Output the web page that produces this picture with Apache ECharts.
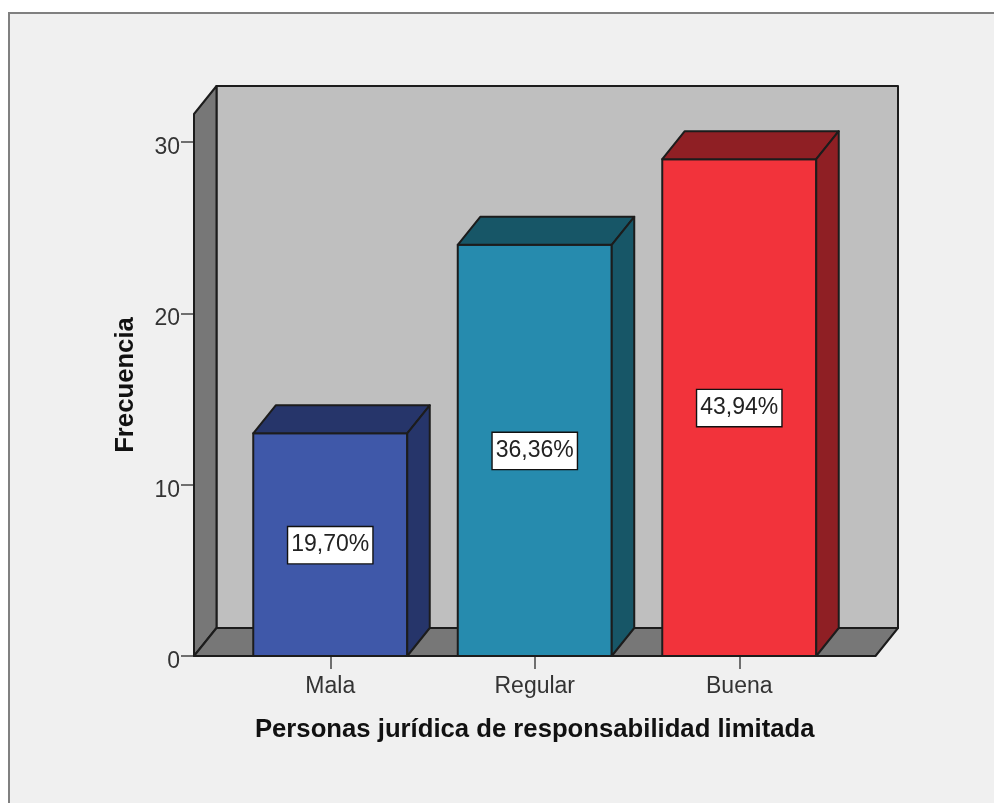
<!DOCTYPE html>
<html>
<head>
<meta charset="utf-8">
<style>
  html, body { margin: 0; padding: 0; background: #fff; }
  #chart { width: 994px; height: 803px; }
</style>
<script src="https://cdn.jsdelivr.net/npm/echarts@6/dist/echarts.min.js"></script>
</head>
<body>
<div id="chart"></div>
<script>
  const categories = ['Mala', 'Regular', 'Buena']
  const frequencies = [13, 24, 29]
  const percentLabels = ['19,70%', '36,36%', '43,94%']
  const yTicks = [0, 10, 20, 30]

  const frontColors = ['#3f58a9', '#268bae', '#f2333b']
  const sideColors = ['#26356a', '#175667', '#8f1f24']
  const yMax = 31.64
  const depthX = 22.5
  const depthY = -28
  const wallPad = 34
  const edge = '#1c1c1c'
  const font = '"Liberation Sans", Arial, sans-serif'

  const chart = echarts.init(document.getElementById('chart'))

  function poly(points, fill) {
    return {
      type: 'polygon',
      shape: { points },
      style: { fill, stroke: edge, lineWidth: 2, lineJoin: 'round' },
    }
  }

  // back wall, side wall and floor of the 3d box
  function renderWalls(params, api) {
    const [x0, y0] = api.coord([0, 0])
    const y1 = api.coord([0, yMax])[1]
    const bandWidth = api.size([1, 0])[0]
    const left = x0 - bandWidth / 2 - wallPad
    const right = x0 + bandWidth * 2.5 + wallPad
    return {
      type: 'group',
      children: [
        poly([[left + depthX, y1 + depthY], [right + depthX, y1 + depthY], [right + depthX, y0 + depthY], [left + depthX, y0 + depthY]], '#bfbfbf'),
        poly([[left, y1], [left + depthX, y1 + depthY], [left + depthX, y0 + depthY], [left, y0]], '#777777'),
        poly([[left, y0], [left + depthX, y0 + depthY], [right + depthX, y0 + depthY], [right, y0]], '#777777'),
      ],
    }
  }

  function renderBar(params, api) {
    const i = api.value(0)
    const value = api.value(1)
    const [cx, y0] = api.coord([i, 0])
    const yTop = api.coord([i, value])[1]
    const yMid = api.coord([i, value / 2])[1]
    const half = api.size([1, 0])[0] * 0.3765
    const l = cx - half
    const r = cx + half
    return {
      type: 'group',
      children: [
        poly([[l, yTop], [r, yTop], [r, y0], [l, y0]], frontColors[i]),
        poly([[l, yTop], [l + depthX, yTop + depthY], [r + depthX, yTop + depthY], [r, yTop]], sideColors[i]),
        poly([[r, yTop], [r + depthX, yTop + depthY], [r + depthX, y0 + depthY], [r, y0]], sideColors[i]),
        {
          type: 'text',
          x: cx,
          y: yMid + 0.5,
          style: {
            text: percentLabels[i],
            font: '23px ' + font,
            fill: '#222',
            align: 'center',
            verticalAlign: 'middle',
            backgroundColor: '#fff',
            borderColor: '#111',
            borderWidth: 1.4,
            padding: [9, 3, 4, 3],
          },
        },
      ],
    }
  }

  chart.setOption({
    animation: false,
    backgroundColor: '#fff',
    graphic: [
      {
        type: 'rect',
        z: -10,
        shape: { x: 9, y: 13, width: 1000, height: 800 },
        style: { fill: '#f0f0f0', stroke: '#808080', lineWidth: 2 },
      },
    ],
    grid: { left: 228, right: 152.5, top: 114, bottom: 147 },
    xAxis: {
      type: 'category',
      data: categories,
      name: 'Personas jurídica de responsabilidad limitada',
      nameLocation: 'middle',
      nameGap: 74,
      nameTextStyle: { fontFamily: font, fontWeight: 'bold', fontSize: 25.7, color: '#111', verticalAlign: 'middle' },
      axisLine: { show: false },
      axisTick: { show: true, alignWithLabel: true, length: 13, lineStyle: { color: '#444', width: 1.5 } },
      axisLabel: { fontFamily: font, fontSize: 23, color: '#333', margin: 19 },
    },
    yAxis: {
      type: 'value',
      min: 0,
      max: yMax,
      offset: wallPad,
      splitLine: { show: false },
      name: 'Frecuencia',
      nameLocation: 'middle',
      nameGap: 68,
      nameTextStyle: { fontFamily: font, fontWeight: 'bold', fontSize: 25.7, color: '#111', verticalAlign: 'middle' },
      axisLine: { show: false },
      axisTick: { show: true, length: 13, customValues: yTicks, lineStyle: { color: '#444', width: 1.5 } },
      axisLabel: { fontFamily: font, fontSize: 23, color: '#333', margin: 14, verticalAlign: 'top', lineHeight: 11, customValues: yTicks },
    },
    series: [
      {
        type: 'custom',
        z: 1,
        clip: false,
        silent: true,
        renderItem: renderWalls,
        data: [[0, 0]],
      },
      {
        type: 'custom',
        z: 2,
        clip: false,
        renderItem: renderBar,
        encode: { x: 0, y: 1 },
        data: frequencies.map((v, i) => [i, v]),
      },
    ],
  })
</script>
</body>
</html>
